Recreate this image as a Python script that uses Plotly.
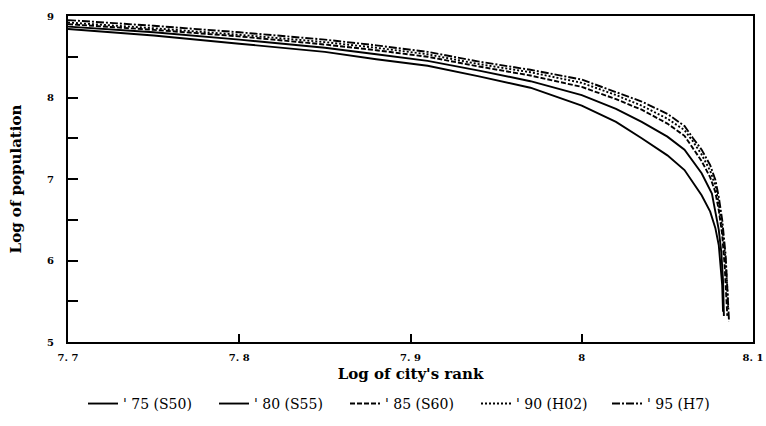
import plotly.graph_objects as go

# Log of city's rank (x) and log of population (y) for each census year
x_75 = [7.70, 7.75, 7.80, 7.85, 7.88, 7.91, 7.94, 7.97, 8.00, 8.02, 8.035, 8.05, 8.06, 8.065, 8.07, 8.075, 8.078, 8.080, 8.081, 8.082, 8.0825]
y_75 = [8.84, 8.76, 8.66, 8.56, 8.47, 8.39, 8.26, 8.12, 7.90, 7.70, 7.50, 7.29, 7.11, 6.96, 6.80, 6.60, 6.40, 6.19, 5.95, 5.70, 5.37]

x_80 = [7.70, 7.75, 7.80, 7.85, 7.88, 7.91, 7.94, 7.97, 8.00, 8.02, 8.035, 8.05, 8.06, 8.065, 8.07, 8.076, 8.078, 8.080, 8.0815, 8.0825, 8.083]
y_80 = [8.87, 8.80, 8.71, 8.61, 8.53, 8.45, 8.33, 8.20, 8.03, 7.86, 7.70, 7.52, 7.36, 7.22, 7.07, 6.82, 6.62, 6.38, 6.10, 5.75, 5.32]

x_85 = [7.70, 7.75, 7.80, 7.85, 7.88, 7.91, 7.94, 7.97, 8.00, 8.02, 8.035, 8.05, 8.06, 8.065, 8.07, 8.075, 8.078, 8.080, 8.082, 8.0835, 8.0845, 8.085]
y_85 = [8.90, 8.83, 8.75, 8.65, 8.58, 8.50, 8.38, 8.27, 8.13, 7.98, 7.85, 7.68, 7.53, 7.38, 7.22, 7.02, 6.84, 6.62, 6.32, 5.92, 5.55, 5.32]

x_90 = [7.70, 7.75, 7.80, 7.85, 7.88, 7.91, 7.94, 7.97, 8.00, 8.02, 8.035, 8.05, 8.06, 8.065, 8.07, 8.075, 8.078, 8.080, 8.082, 8.084, 8.085, 8.0855]
y_90 = [8.92, 8.85, 8.77, 8.68, 8.61, 8.53, 8.41, 8.31, 8.18, 8.03, 7.90, 7.74, 7.60, 7.46, 7.30, 7.10, 6.92, 6.70, 6.40, 6.00, 5.65, 5.40]

x_95 = [7.70, 7.75, 7.80, 7.85, 7.88, 7.91, 7.94, 7.97, 8.00, 8.02, 8.035, 8.05, 8.06, 8.065, 8.07, 8.075, 8.078, 8.080, 8.082, 8.084, 8.085, 8.086]
y_95 = [8.95, 8.88, 8.80, 8.71, 8.64, 8.56, 8.44, 8.34, 8.22, 8.07, 7.95, 7.80, 7.65, 7.50, 7.36, 7.17, 6.99, 6.78, 6.50, 6.07, 5.70, 5.25]

series_names = ["' 75 (S50)", "' 80 (S55)", "' 85 (S60)", "' 90 (H02)", "' 95 (H7)"]
series_x = [x_75, x_80, x_85, x_90, x_95]
series_y = [y_75, y_80, y_85, y_90, y_95]
dashes = ["solid", "solid", "5px,2px", "2px,2px", "8px,2px,2px,2px"]

x_tickvals = [7.7, 7.8, 7.9, 8.0, 8.1]
x_ticktext = ["7. 7", "7. 8", "7. 9", "8", "8. 1"]
y_tickvals = [5, 6, 7, 8, 9]

SERIF = "DejaVu Serif, Liberation Serif, serif"

fig = go.Figure()
for name, xs, ys, d in zip(series_names, series_x, series_y, dashes):
    fig.add_trace(go.Scatter(x=xs, y=ys, mode="lines", name=name,
                             line=dict(color="black", width=1.9, dash=d)))

fig.update_layout(
    width=766, height=426,
    margin=dict(l=68, r=13, t=16, b=84, autoexpand=False),
    paper_bgcolor="white", plot_bgcolor="white",
    font=dict(family=SERIF, color="black"),
    showlegend=True,
    legend=dict(orientation="h", x=0.5, xanchor="center", y=-0.19, yanchor="middle",
                font=dict(size=14, family=SERIF), entrywidth=86, entrywidthmode="pixels",
                itemwidth=30, bgcolor="rgba(0,0,0,0)"),
)
fig.update_xaxes(
    range=[7.7, 8.1], tickvals=x_tickvals, ticktext=x_ticktext,
    ticks="inside", ticklen=8, tickwidth=1.5, tickcolor="black",
    showline=True, linecolor="black", linewidth=2, mirror=True,
    showgrid=False, zeroline=False, ticklabelstandoff=5,
    tickfont=dict(size=10, family=SERIF, weight="bold"),
    title=dict(text="Log of city's rank", font=dict(size=15, family=SERIF, weight="bold"), standoff=6),
)
fig.update_yaxes(
    range=[5, 9], tickvals=y_tickvals,
    ticks="inside", ticklen=10, tickwidth=1.5, tickcolor="black",
    minor=dict(dtick=0.5, ticks="inside", ticklen=10, tickwidth=1.5, tickcolor="black", showgrid=False),
    showline=True, linecolor="black", linewidth=2, mirror=True,
    showgrid=False, zeroline=False, ticklabelstandoff=10,
    tickfont=dict(size=10, family=SERIF, weight="bold"),
    title=dict(text="Log of population", font=dict(size=15, family=SERIF, weight="bold"), standoff=22),
)

fig.write_html("out.html")
